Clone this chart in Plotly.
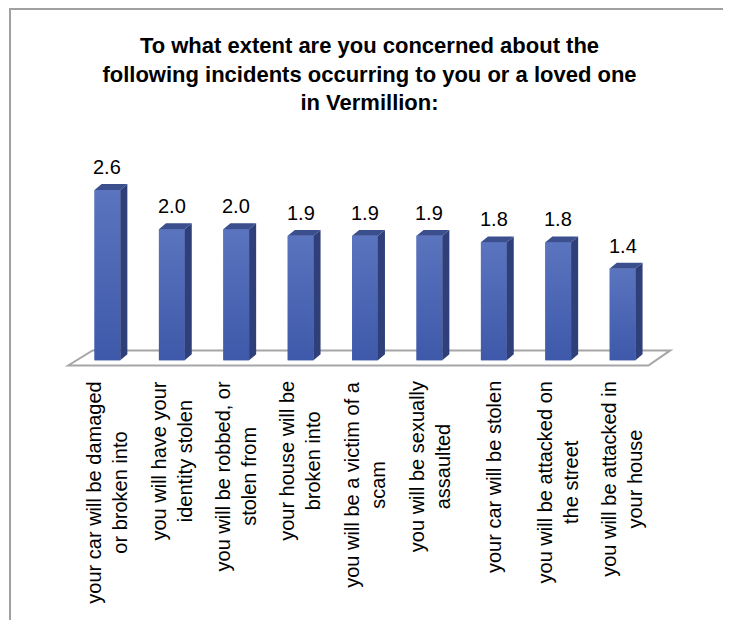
import plotly.graph_objects as go

# survey results, mean concern score per incident
categories = [
    "your car will be damaged<br>or broken into",
    "you will have your<br>identity stolen",
    "you will be robbed, or<br>stolen from",
    "your house will be<br>broken into",
    "you will be a victim of a<br>scam",
    "you will be sexually<br>assaulted",
    "your car will be stolen",
    "you will be attacked on<br>the street",
    "you will be attacked in<br>your house",
]
scores = [2.6, 2.0, 2.0, 1.9, 1.9, 1.9, 1.8, 1.8, 1.4]

TITLE = ("To what extent are you concerned about the<br>"
         "following incidents occurring to you or a loved one<br>"
         "in Vermillion:")

FRONT = "#4a66b4"
FRONT_LO = "#3e59a9"
FRONT_HI = "#5a74bf"
SIDE = "#2f3f79"
TOP = "#3b4e8d"

n = len(scores)
xs = list(range(n))
half = 0.2      # half bar width in category units
dx, dy = 0.11, 0.09   # fake 3d depth

# page body has an 8px margin, so the figure is a bit smaller than the window
W, H = 723, 612

fig = go.Figure()

fig.add_trace(go.Bar(
    x=xs, y=scores, width=2 * half,
    marker=dict(color=FRONT, line=dict(width=0)),
    hoverinfo="skip",
))

# shaded front face on top of each bar (gradient runs per bar)
for x, v in zip(xs, scores):
    fig.add_trace(go.Scatter(
        x=[x - half, x + half, x + half, x - half, x - half],
        y=[0, 0, v, v, 0],
        fill="toself", mode="lines", line=dict(width=0, color=FRONT),
        fillgradient=dict(type="vertical", colorscale=[[0, FRONT_LO], [1, FRONT_HI]]),
        hoverinfo="skip",
    ))

# side and top faces built from the bar values
side_x, side_y, top_x, top_y = [], [], [], []
for x, v in zip(xs, scores):
    r = x + half
    l = x - half
    side_x += [r, r + dx, r + dx, r, r, None]
    side_y += [0, dy, v + dy, v, 0, None]
    top_x += [l, l + dx, r + dx, r, l, None]
    top_y += [v, v + dy, v + dy, v, v, None]

fig.add_trace(go.Scatter(x=side_x, y=side_y, fill="toself", fillcolor=SIDE,
                         mode="lines", line=dict(width=0, color=SIDE), hoverinfo="skip"))
fig.add_trace(go.Scatter(x=top_x, y=top_y, fill="toself", fillcolor=TOP,
                         mode="lines", line=dict(width=0, color=TOP), hoverinfo="skip"))

# floor
fl, fr = -0.61, (n - 1) + 0.40
fig.add_shape(type="path", layer="below",
              path=f"M {fl},-0.08 L {fl + 0.38},0.15 L {fr + 0.34},0.15 L {fr},-0.08 Z",
              line=dict(color="#a6a6a6", width=2), fillcolor="white")

# value labels
for x, v in zip(xs, scores):
    fig.add_annotation(x=x, y=v, text=f"{v:.1f}", showarrow=False,
                       yanchor="bottom", yshift=10,
                       font=dict(family="Liberation Sans, Arial", size=20, color="black"))

# category labels
for x, c in zip(xs, categories):
    fig.add_annotation(x=x, y=-0.29, text=c, showarrow=False, textangle=-90,
                       xanchor="center", yanchor="top", align="center",
                       font=dict(family="Liberation Sans, Arial", size=20, color="black"))

# outer frame (left and top edges)
fig.add_shape(type="path", xref="paper", yref="paper",
              path="M -0.0512,-0.87 L -0.0512,1.466 L 1.07,1.466",
              line=dict(color="#a0a0a0", width=2))

fig.update_layout(
    width=W, height=H,
    margin=dict(l=35, r=44, t=123, b=227),
    paper_bgcolor="white", plot_bgcolor="white",
    showlegend=False,
    title=dict(text=TITLE, x=0.5, xref="container", xanchor="center",
               y=1 - 45 / H, yanchor="top", yref="container",
               font=dict(family="Liberation Sans", size=22,
                         color="black", weight="bold")),
    xaxis=dict(range=[-1, n], visible=False, fixedrange=True),
    yaxis=dict(range=[-0.5, 3.5], visible=False, fixedrange=True),
)

fig.write_html("out.html")
